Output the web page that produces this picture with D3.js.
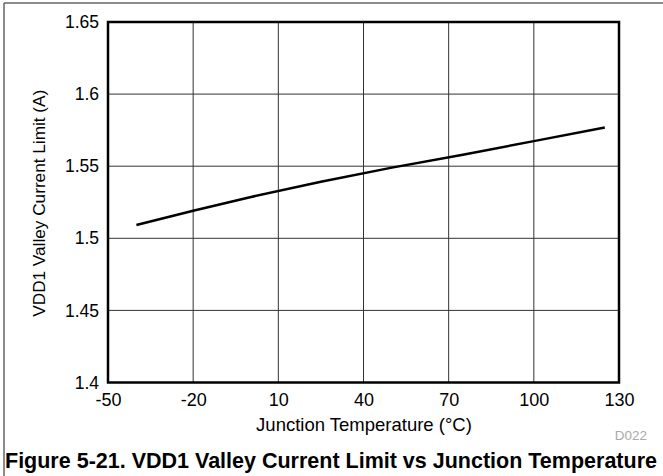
<!DOCTYPE html>
<html>
<head>
<meta charset="utf-8">
<script src="https://cdn.jsdelivr.net/npm/d3@7/dist/d3.min.js"></script>
<style>
  html, body { margin: 0; padding: 0; background: #fff; }
  svg { display: block; font-family: "Liberation Sans", Arial, sans-serif; }
</style>
</head>
<body>
<svg id="chart" width="663" height="476"></svg>
<script>
// Junction temperature (°C) and VDD1 valley current limit (A)
const temperature = [-40, -20, 0, 25, 50, 75, 100, 125];
const currentLimit = [1.5092, 1.5191, 1.5285, 1.5392, 1.5490, 1.5580, 1.5674, 1.5769];

const xTicks = [-50, -20, 10, 40, 70, 100, 130];
const yTicks = [1.4, 1.45, 1.5, 1.55, 1.6, 1.65];

const xTitle = "Junction Temperature (°C)";
const yTitle = "VDD1 Valley Current Limit (A)";
const caption = "Figure 5-21. VDD1 Valley Current Limit vs Junction Temperature";
const figId = "D022";

const svg = d3.select("#chart");
const W = 663, H = 476;
const m = { left: 108, right: 619, top: 22, bottom: 382.5 };
const FONT = "Liberation Sans, Arial, sans-serif";

// Outer frame
svg.append("line").attr("x1", 4).attr("x2", W).attr("y1", 3).attr("y2", 3)
  .attr("stroke", "#666").attr("stroke-width", 1.5);
svg.append("line").attr("x1", 4).attr("x2", 4).attr("y1", 3).attr("y2", H)
  .attr("stroke", "#666").attr("stroke-width", 1.5);

const x = d3.scaleLinear().domain([-50, 130]).range([m.left, m.right]);
const y = d3.scaleLinear().domain([1.4, 1.65]).range([m.bottom, m.top]);

// Grid
const grid = svg.append("g");
grid.selectAll("line.vx").data(xTicks.slice(1, -1)).join("line")
  .attr("x1", d => x(d)).attr("x2", d => x(d))
  .attr("y1", m.top).attr("y2", m.bottom)
  .attr("stroke", "#333").attr("stroke-width", 1);
grid.selectAll("line.hy").data(yTicks.slice(1, -1)).join("line")
  .attr("x1", m.left).attr("x2", m.right)
  .attr("y1", d => y(d)).attr("y2", d => y(d))
  .attr("stroke", "#333").attr("stroke-width", 1);

// Axes (labels only, ticks hidden)
const xAxis = d3.axisBottom(x).tickValues(xTicks).tickSize(0).tickPadding(11)
  .tickFormat(d => String(d));
svg.append("g").attr("transform", `translate(0,${m.bottom})`).call(xAxis)
  .call(g => g.select(".domain").remove())
  .call(g => g.selectAll("text").attr("font-size", 18).attr("fill", "#000")
    .attr("font-family", FONT));

const yAxis = d3.axisLeft(y).tickValues(yTicks).tickSize(0).tickPadding(9)
  .tickFormat(d => String(+d.toFixed(2)));
svg.append("g").attr("transform", `translate(${m.left},0)`).call(yAxis)
  .call(g => g.select(".domain").remove())
  .call(g => g.selectAll("text").attr("font-size", 17.5).attr("fill", "#000")
    .attr("font-family", FONT));

// Plot frame
svg.append("rect").attr("x", m.left).attr("y", m.top)
  .attr("width", m.right - m.left).attr("height", m.bottom - m.top)
  .attr("fill", "none").attr("stroke", "#000").attr("stroke-width", 2.5);

// Data line
const pts = temperature.map((t, i) => [t, currentLimit[i]]);
svg.append("path").datum(pts)
  .attr("d", d3.line().x(d => x(d[0])).y(d => y(d[1])))
  .attr("fill", "none").attr("stroke", "#000").attr("stroke-width", 2.5);

// Axis titles
svg.append("text").attr("x", 364).attr("y", 431)
  .attr("text-anchor", "middle").attr("font-size", 18.5).text(xTitle);
svg.append("text")
  .attr("transform", `translate(45,${(m.top + m.bottom) / 2 + 1}) rotate(-90)`)
  .attr("text-anchor", "middle").attr("font-size", 17.2).text(yTitle);

// Figure id
svg.append("text").attr("x", 647).attr("y", 440).attr("text-anchor", "end")
  .attr("font-size", 13.5).attr("fill", "#aaa").text(figId);

// Caption
svg.append("text").attr("x", 5).attr("y", 468).attr("font-size", 21.5)
  .attr("font-weight", "bold").attr("fill", "#000").text(caption);
</script>
</body>
</html>
